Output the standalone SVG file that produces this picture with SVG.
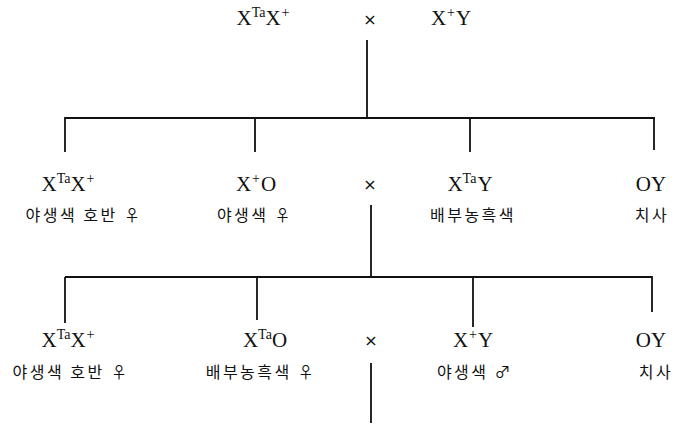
<svg xmlns="http://www.w3.org/2000/svg" width="677" height="425" viewBox="0 0 677 425">
<style>
.g{font-family:"Liberation Serif","Times New Roman",serif;font-size:21px;fill:#111;text-anchor:middle}
.s{font-size:14px}
.k{font-family:"Noto Sans CJK KR","Noto Sans",sans-serif;font-size:16px;fill:#111;text-anchor:middle;letter-spacing:2.5px}
.x{font-family:"DejaVu Sans",sans-serif;font-size:16px;fill:#111;text-anchor:middle}
.ln{stroke:#111;stroke-width:1.8;fill:none}
</style>
<rect width="677" height="425" fill="#fff"/>
<g id="connectors">
<path class="ln" d="M367 40V117M65 118H655M65 117V152M255 117V152M470 117V152M654 117V150"/>
<path class="ln" d="M371 205V276M65 277H652M65 277V323M257 277V320M473 276V327M652 276V312M371 363V423"/>
</g>
<g id="p1"><text class="g" x="263" y="25">X<tspan class="s" dy="-8">Ta</tspan><tspan dy="8">X</tspan><tspan class="s" dy="-8" dx="1">+</tspan></text></g>
<g id="cross1"><text class="x" x="370" y="25">×</text></g>
<g id="p2"><text class="g" x="451" y="25">X<tspan class="s" dy="-8" dx="1">+</tspan><tspan dy="8" dx="1">Y</tspan></text></g>
<g id="c1"><text class="g" x="68" y="191">X<tspan class="s" dy="-8">Ta</tspan><tspan dy="8">X</tspan><tspan class="s" dy="-8" dx="1">+</tspan></text><text class="k" x="84" y="221">야생색 호반 ♀</text></g>
<g id="c2"><text class="g" x="256" y="191">X<tspan class="s" dy="-8" dx="1">+</tspan><tspan dy="8" dx="1">O</tspan></text><text class="k" x="255" y="221">야생색 ♀</text></g>
<g id="cross2"><text class="x" x="370" y="190">×</text></g>
<g id="c3"><text class="g" x="470" y="191">X<tspan class="s" dy="-8">Ta</tspan><tspan dy="8" dx="1">Y</tspan></text><text class="k" x="473" y="221">배부농흑색</text></g>
<g id="c4"><text class="g" x="651" y="191">OY</text><text class="k" x="652" y="221">치사</text></g>
<g id="d1"><text class="g" x="68" y="347">X<tspan class="s" dy="-8">Ta</tspan><tspan dy="8">X</tspan><tspan class="s" dy="-8" dx="1">+</tspan></text><text class="k" x="71" y="378">야생색 호반 ♀</text></g>
<g id="d2"><text class="g" x="265" y="347">X<tspan class="s" dy="-8">Ta</tspan><tspan dy="8">O</tspan></text><text class="k" x="261" y="378">배부농흑색 ♀</text></g>
<g id="cross3"><text class="x" x="371" y="346">×</text></g>
<g id="d3"><text class="g" x="473" y="347">X<tspan class="s" dy="-8" dx="1">+</tspan><tspan dy="8" dx="1">Y</tspan></text><text class="k" x="475" y="378">야생색 ♂</text></g>
<g id="d4"><text class="g" x="651" y="347">OY</text><text class="k" x="656" y="378">치사</text></g>
</svg>
